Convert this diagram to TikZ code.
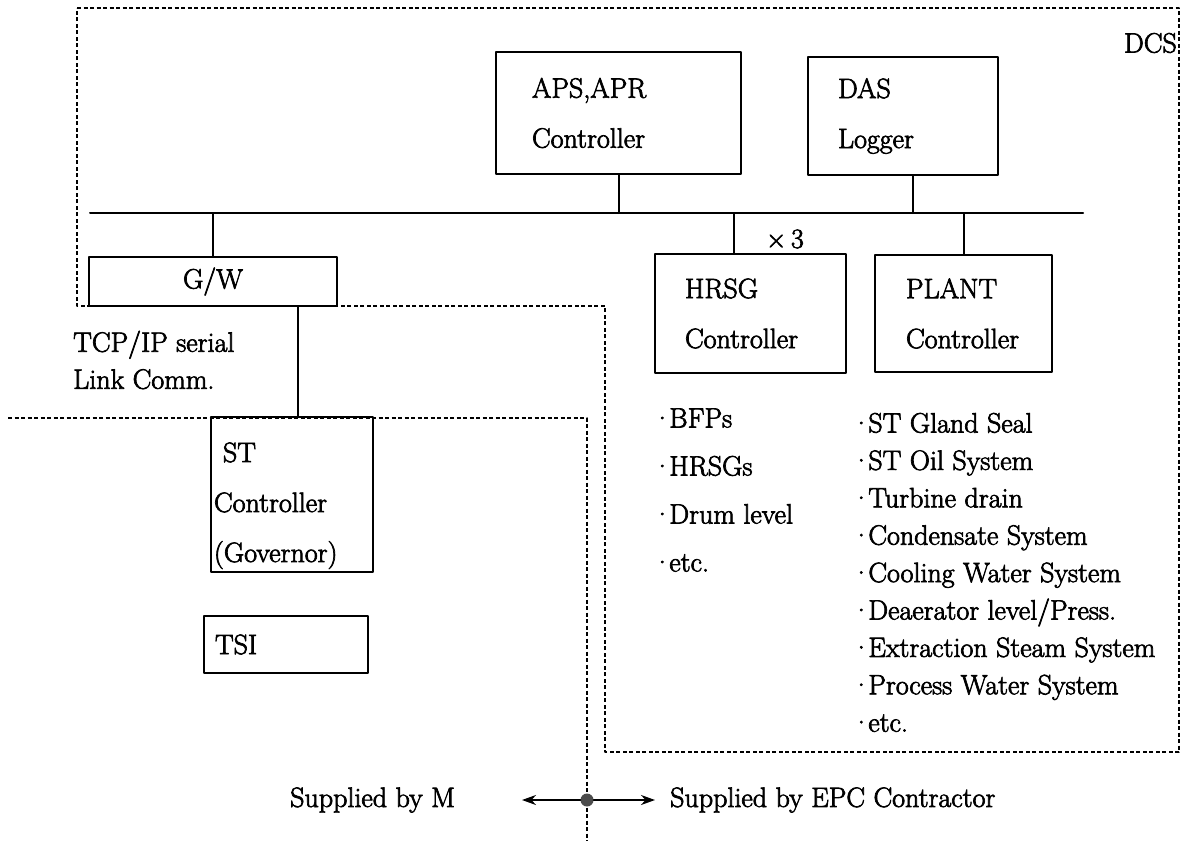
\documentclass[tikz,border=0pt]{standalone}
\usepackage{fontspec}
\setmainfont{Latin Modern Roman}[FakeBold=2.5]
\usetikzlibrary{arrows.meta}
\hyphenpenalty=10000
\hfuzz=30pt

\begin{document}
\begin{tikzpicture}[x=1pt, y=-1pt, line cap=round, line join=round, >={Stealth[length=14pt,width=10pt]},
  every node/.style={font=\fontsize{28}{50}\selectfont, inner sep=0pt},
  unit/.style={draw, line width=2.2pt, align=left},
  bus/.style={line width=2pt},
  border/.style={line width=1.8pt, line cap=butt, dash pattern=on 4pt off 2.5pt, black},
  item/.style={anchor=west, text height=19pt, text depth=0pt}]
  \useasboundingbox (0,0) rectangle (1186,841);

  % DCS scope and the supply limit.
  \draw[border] (77,8) -- (1179,8) -- (1179,752) -- (605,752) -- (605,306) -- (77,306) -- cycle;
  \node[anchor=east] (dcs) at (1177,43) {DCS};
  \draw[border] (8,418) -- (587,418) -- (587,841);

  % Control bus.
  \coordinate (busL) at (90,213);
  \coordinate (busR) at (1083,213);
  \draw[bus] (busL) -- (busR);

  % Units on the bus.
  \node[unit, minimum width=245, minimum height=122, text width=173] (aps) at (618.5,113) {APS,APR\\Controller};
  \node[unit, minimum width=190, minimum height=118, text width=130] (das) at (903,116) {DAS\\Logger};
  \node[unit, minimum width=248, minimum height=49, align=center] (gw) at (213,281.5) {G/W};
  \node[unit, minimum width=191, minimum height=119, text width=131] (hrsg) at (750.5,313.5) {HRSG\\Controller};
  \node[unit, minimum width=177, minimum height=117, text width=115] (plant) at (963.5,313.5) {PLANT\\Controller};
  \node[unit, minimum width=162, minimum height=155, text width=156] (st) at (292,494.5) {\rule{0pt}{42pt}\hspace*{9pt}ST\\Controller\\(Governor)};
  \node[unit, minimum width=164, minimum height=57, text width=142] (tsi) at (286,644.5) {TSI};

  % Taps off the bus.
  \coordinate (dasTap) at (913,0);
  \coordinate (hrsgTap) at (734,0);
  \coordinate (stTap) at (298,0);
  \draw[bus] (aps.south) -- (aps.south |- busL);
  \draw[bus] (dasTap |- das.south) -- (dasTap |- busL);
  \draw[bus] (gw.north) -- (gw.north |- busL);
  \draw[bus] (hrsgTap |- hrsg.north) -- (hrsgTap |- busL);
  \draw[bus] (plant.north) -- (plant.north |- busL);
  \draw[bus] (stTap |- gw.south) -- (stTap |- st.north);
  \node (times3) at (785,239) {×\,3};
  \node[anchor=west, align=left, font=\fontsize{28}{37}\selectfont] (tcpip) at (73,360) {TCP/IP serial\\Link Comm.};

  % Scope lists.
  \foreach \txt [count=\i from 0] in {BFPs, HRSGs, Drum level, etc.}
    \node[item] (hrsgitem\i) at (652,{418+48*\i}) {·\kern-3pt\txt};
  \foreach \txt [count=\i from 0] in {ST Gland Seal, ST Oil System, Turbine drain, Condensate System,
      Cooling Water System, Deaerator level/Press., Extraction Steam System, Process Water System, etc.}
    \node[item] (plantitem\i) at (851,{423+37.4*\i}) {·\kern-3pt\txt};

  % Supply split.
  \node[circle, fill=black!70, minimum size=13pt] (split) at (587,800) {};
  \coordinate (mEnd) at (522,800);
  \coordinate (epcEnd) at (655,800);
  \draw[->, line width=2pt] (split) -- (mEnd);
  \draw[->, line width=2pt] (split) -- (epcEnd);
  \node[anchor=west] (bym) at (290,800) {Supplied by M};
  \node[anchor=west] (byepc) at (670,800) {Supplied by EPC Contractor};
\end{tikzpicture}
\end{document}
